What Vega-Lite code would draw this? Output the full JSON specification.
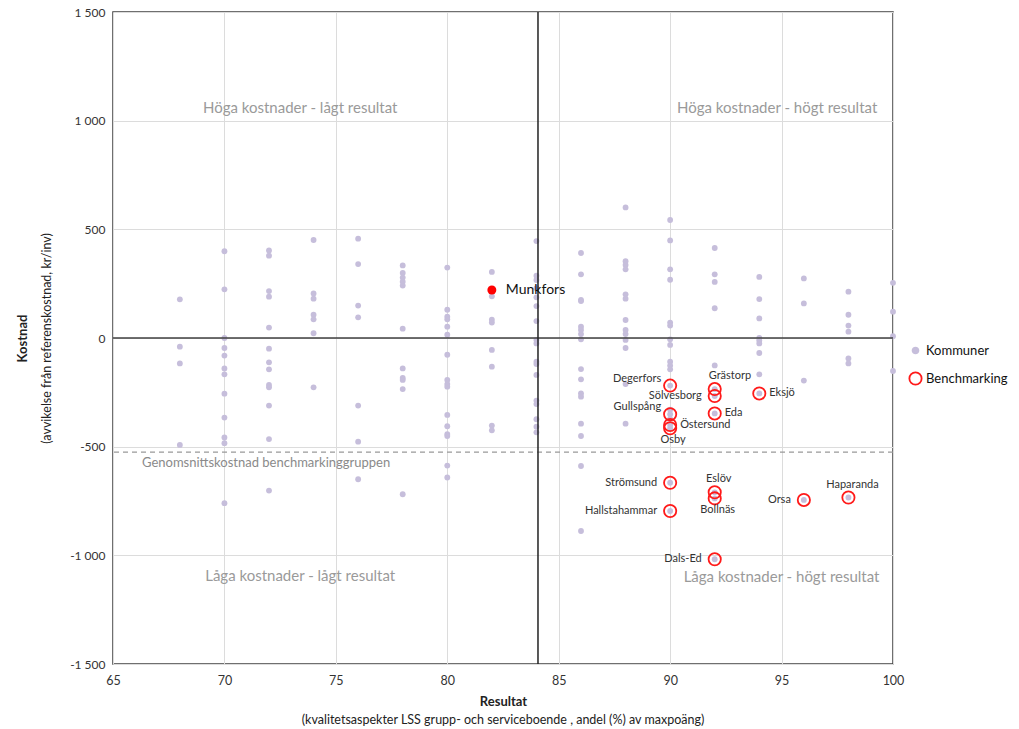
{
"$schema": "https://vega.github.io/schema/vega-lite/v6.json",
"width": 780, "height": 652,
"autosize": {"type": "none"},
"padding": {"left": 113, "top": 12, "right": 126, "bottom": 65},
"background": "white",
"config": {
 "font": "Lato",
 "view": {"stroke": "#404040", "strokeWidth": 1.5},
 "axis": {"grid": true, "gridColor": "#dcdcdc", "gridWidth": 1, "ticks": false, "domain": false, "labelFont": "Lato", "labelFontSize": 12, "labelColor": "#333", "titleFont": "Lato", "titleColor": "#222", "titleFontSize": 13, "labelFlush": false},
 "axisX": {"titleFontWeight": "bold", "labelPadding": 10, "titlePadding": 9, "tickCount": 7, "labelFontSize": 12.5},
 "legend": {"labelFont": "Lato", "labelFontSize": 13, "labelColor": "#111"}
},
"title": {"text": "(kvalitetsaspekter LSS grupp- och serviceboende , andel (%) av maxpoäng)", "orient": "bottom", "anchor": "middle", "fontWeight": "normal", "fontSize": 12.5, "color": "#222", "offset": 5, "font": "Lato"},
"datasets": {
 "pts": [
  {"x":68,"y":178},{"x":68,"y":-40},{"x":68,"y":-117},{"x":68,"y":-492},
  {"x":70,"y":399},{"x":70,"y":224},{"x":70,"y":0},{"x":70,"y":-46},{"x":70,"y":-81},{"x":70,"y":-140},{"x":70,"y":-167},{"x":70,"y":-256},{"x":70,"y":-366},{"x":70,"y":-458},{"x":70,"y":-484},{"x":70,"y":-760},
  {"x":72,"y":403},{"x":72,"y":379},{"x":72,"y":216},{"x":72,"y":190},{"x":72,"y":48},{"x":72,"y":-49},{"x":72,"y":-112},{"x":72,"y":-144},{"x":72,"y":-216},{"x":72,"y":-227},{"x":72,"y":-311},{"x":72,"y":-465},{"x":72,"y":-702},
  {"x":74,"y":451},{"x":74,"y":205},{"x":74,"y":181},{"x":74,"y":107},{"x":74,"y":86},{"x":74,"y":22},{"x":74,"y":-227},
  {"x":76,"y":457},{"x":76,"y":340},{"x":76,"y":149},{"x":76,"y":95},{"x":76,"y":-311},{"x":76,"y":-477},{"x":76,"y":-650},
  {"x":78,"y":334},{"x":78,"y":299},{"x":78,"y":278},{"x":78,"y":259},{"x":78,"y":241},{"x":78,"y":43},{"x":78,"y":-140},{"x":78,"y":-184},{"x":78,"y":-193},{"x":78,"y":-235},{"x":78,"y":-719},
  {"x":80,"y":324},{"x":80,"y":130},{"x":80,"y":98},{"x":80,"y":86},{"x":80,"y":52},{"x":80,"y":15},{"x":80,"y":-77},{"x":80,"y":-193},{"x":80,"y":-212},{"x":80,"y":-224},{"x":80,"y":-354},{"x":80,"y":-406},{"x":80,"y":-442},{"x":80,"y":-451},{"x":80,"y":-587},{"x":80,"y":-642},
  {"x":82,"y":304},{"x":82,"y":192},{"x":82,"y":84},{"x":82,"y":71},{"x":82,"y":-55},{"x":82,"y":-132},{"x":82,"y":-403},{"x":82,"y":-425},
  {"x":84,"y":446},{"x":84,"y":287},{"x":84,"y":267},{"x":84,"y":229},{"x":84,"y":187},{"x":84,"y":147},{"x":84,"y":78},{"x":84,"y":-9},{"x":84,"y":-25},{"x":84,"y":-109},{"x":84,"y":-120},{"x":84,"y":-170},{"x":84,"y":-288},{"x":84,"y":-304},{"x":84,"y":-374},{"x":84,"y":-408},{"x":84,"y":-434},
  {"x":86,"y":391},{"x":86,"y":293},{"x":86,"y":175},{"x":86,"y":170},{"x":86,"y":52},{"x":86,"y":37},{"x":86,"y":18},{"x":86,"y":-6},{"x":86,"y":-143},{"x":86,"y":-190},{"x":86,"y":-255},{"x":86,"y":-270},{"x":86,"y":-394},{"x":86,"y":-451},{"x":86,"y":-589},{"x":86,"y":-888},
  {"x":88,"y":601},{"x":88,"y":353},{"x":88,"y":336},{"x":88,"y":316},{"x":88,"y":201},{"x":88,"y":181},{"x":88,"y":83},{"x":88,"y":37},{"x":88,"y":18},{"x":88,"y":-9},{"x":88,"y":-46},{"x":88,"y":-212},{"x":88,"y":-394},
  {"x":90,"y":543},{"x":90,"y":449},{"x":90,"y":316},{"x":90,"y":268},{"x":90,"y":71},{"x":90,"y":57},{"x":90,"y":-6},{"x":90,"y":-32},{"x":90,"y":-109},{"x":90,"y":-127},{"x":90,"y":-144},{"x":90,"y":-330},{"x":90,"y":-372},
  {"x":92,"y":414},{"x":92,"y":293},{"x":92,"y":258},{"x":92,"y":137},{"x":92,"y":-126},
  {"x":94,"y":281},{"x":94,"y":179},{"x":94,"y":90},{"x":94,"y":0},{"x":94,"y":-12},{"x":94,"y":-25},{"x":94,"y":-69},{"x":94,"y":-167},
  {"x":96,"y":274},{"x":96,"y":159},{"x":96,"y":-196},
  {"x":98,"y":213},{"x":98,"y":107},{"x":98,"y":57},{"x":98,"y":29},{"x":98,"y":-94},{"x":98,"y":-117},
  {"x":100,"y":254},{"x":100,"y":121},{"x":100,"y":8},{"x":100,"y":-152},
  {"x":90,"y":-219,"name":"Degerfors"},
  {"x":92,"y":-235,"name":"Grästorp"},
  {"x":92,"y":-267,"name":"Sölvesborg"},
  {"x":94,"y":-255,"name":"Eksjö"},
  {"x":90,"y":-351,"name":"Gullspång"},
  {"x":92,"y":-347,"name":"Eda"},
  {"x":90,"y":-400,"name":"Östersund"},
  {"x":90,"y":-415,"name":"Osby"},
  {"x":90,"y":-666,"name":"Strömsund"},
  {"x":92,"y":-710,"name":"Eslöv"},
  {"x":92,"y":-738,"name":"Bollnäs"},
  {"x":96,"y":-745,"name":"Orsa"},
  {"x":98,"y":-734,"name":"Haparanda"},
  {"x":90,"y":-796,"name":"Hallstahammar"},
  {"x":92,"y":-1018,"name":"Dals-Ed"}
 ],
 "munk": [{"x":82,"y":221,"name":"Munkfors"}],
 "refs": [{"avgcost": -525, "midres": 84.07, "zero": 0}],
 "quad": [
  {"x":73.4,"y":1058,"label":"Höga kostnader - lågt resultat"},
  {"x":94.8,"y":1058,"label":"Höga kostnader - högt resultat"},
  {"x":73.4,"y":-1095,"label":"Låga kostnader - lågt resultat"},
  {"x":95.0,"y":-1098,"label":"Låga kostnader - högt resultat"}
 ],
 "avg": [{"x":66.3,"y":-575,"label":"Genomsnittskostnad benchmarkinggruppen"}]
},
"layer": [
 {"data": {"name": "pts"},
  "mark": {"type": "point", "filled": true, "opacity": 1, "strokeWidth": 0},
  "encoding": {
   "x": {"field": "x", "type": "quantitative", "title": "Resultat", "scale": {"domain": [65,100], "nice": false, "zero": false}},
   "y": {"field": "y", "type": "quantitative", "scale": {"domain": [-1500,1500], "nice": false, "zero": false},
    "axis": {"orient": "left", "title": "(avvikelse från referenskostnad, kr/inv)", "titleFontWeight": "normal", "titleFontSize": 12.5, "values": [-1500,-1000,-500,0,500,1000,1500], "labelPadding": 8, "titlePadding": 16,
     "labelExpr": "datum.value < 0 ? '-' + replace(format(abs(datum.value), ','), ',', ' ') : replace(format(datum.value, ','), ',', ' ')"}},
   "fill": {"datum": "Kommuner", "type": "nominal", "scale": {"domain": ["Kommuner","Benchmarking"], "range": ["#c6bedb","transparent"]}, "legend": {"title": null, "orient": "none", "legendX": 795, "legendY": 332, "symbolStrokeWidth": 1.8, "rowPadding": 10, "labelOffset": 3}},
   "stroke": {"datum": "Kommuner", "type": "nominal", "scale": {"domain": ["Kommuner","Benchmarking"], "range": ["#c6bedb","#ff1a1a"]}, "legend": {"title": null, "orient": "none", "legendX": 795, "legendY": 332, "symbolStrokeWidth": 1.8, "rowPadding": 10, "labelOffset": 3}},
   "size": {"datum": "Kommuner", "type": "nominal", "scale": {"domain": ["Kommuner","Benchmarking"], "range": [34,150]}, "legend": {"title": null, "orient": "none", "legendX": 795, "legendY": 332, "symbolStrokeWidth": 1.8, "rowPadding": 10, "labelOffset": 3}}
  }},
 {"data": {"name": "refs"},
  "mark": {"type": "rule", "color": "#999", "strokeDash": [5,4], "strokeWidth": 1.2},
  "encoding": {"y": {"field": "avgcost", "type": "quantitative",
   "axis": {"orient": "left", "title": "Kostnad", "labels": false, "grid": false, "titleFontWeight": "bold", "titlePadding": 84}}}},
 {"data": {"name": "refs"},
  "mark": {"type": "rule", "color": "#404040", "strokeWidth": 1.5},
  "encoding": {"y": {"field": "zero", "type": "quantitative", "axis": null}}},
 {"data": {"name": "refs"},
  "mark": {"type": "rule", "color": "#222", "strokeWidth": 1.5},
  "encoding": {"x": {"field": "midres", "type": "quantitative", "title": "Resultat"}}},
 {"data": {"name": "pts"},
  "transform": [{"filter": "datum.name != null"}],
  "mark": {"type": "point", "filled": false, "strokeWidth": 1.8, "opacity": 1},
  "encoding": {
   "x": {"field": "x", "type": "quantitative", "title": "Resultat"},
   "y": {"field": "y", "type": "quantitative", "axis": null},
   "fill": {"datum": "Benchmarking", "type": "nominal"},
   "stroke": {"datum": "Benchmarking", "type": "nominal"},
   "size": {"datum": "Benchmarking", "type": "nominal"}
  }},
 {"data": {"name": "munk"},
  "mark": {"type": "circle", "color": "#ff0000", "size": 80, "opacity": 1},
  "encoding": {"x": {"field": "x", "type": "quantitative", "title": "Resultat"}, "y": {"field": "y", "type": "quantitative", "axis": null}}},
 {"data": {"name": "munk"},
  "mark": {"type": "text", "align": "left", "dx": 14, "fontSize": 14, "color": "#111", "baseline": "middle"},
  "encoding": {"x": {"field": "x", "type": "quantitative", "title": "Resultat"}, "y": {"field": "y", "type": "quantitative", "axis": null}, "text": {"field": "name"}}},
 {"data": {"name": "pts"},
  "transform": [{"filter": {"field": "name", "oneOf": ["Sölvesborg","Strömsund","Hallstahammar","Orsa","Dals-Ed"]}}],
  "mark": {"type": "text", "align": "right", "dx": -13, "fontSize": 11, "color": "#333", "baseline": "middle"},
  "encoding": {"x": {"field": "x", "type": "quantitative", "title": "Resultat"}, "y": {"field": "y", "type": "quantitative", "axis": null}, "text": {"field": "name"}}},
 {"data": {"name": "pts"},
  "transform": [{"filter": {"field": "name", "oneOf": ["Degerfors","Gullspång"]}}],
  "mark": {"type": "text", "align": "right", "dx": -9, "dy": -7, "fontSize": 11, "color": "#333", "baseline": "middle"},
  "encoding": {"x": {"field": "x", "type": "quantitative", "title": "Resultat"}, "y": {"field": "y", "type": "quantitative", "axis": null}, "text": {"field": "name"}}},
 {"data": {"name": "pts"},
  "transform": [{"filter": {"field": "name", "oneOf": ["Eksjö","Eda","Östersund"]}}],
  "mark": {"type": "text", "align": "left", "dx": 10, "fontSize": 11, "color": "#333", "baseline": "middle"},
  "encoding": {"x": {"field": "x", "type": "quantitative", "title": "Resultat"}, "y": {"field": "y", "type": "quantitative", "axis": null}, "text": {"field": "name"}}},
 {"data": {"name": "pts"},
  "transform": [{"filter": {"field": "name", "oneOf": ["Eslöv","Haparanda"]}}],
  "mark": {"type": "text", "align": "center", "dx": 4, "dy": -13, "fontSize": 11, "color": "#333", "baseline": "middle"},
  "encoding": {"x": {"field": "x", "type": "quantitative", "title": "Resultat"}, "y": {"field": "y", "type": "quantitative", "axis": null}, "text": {"field": "name"}}},
 {"data": {"name": "pts"},
  "transform": [{"filter": {"field": "name", "oneOf": ["Grästorp"]}}],
  "mark": {"type": "text", "align": "left", "dx": -6, "dy": -13, "fontSize": 11, "color": "#333", "baseline": "middle"},
  "encoding": {"x": {"field": "x", "type": "quantitative", "title": "Resultat"}, "y": {"field": "y", "type": "quantitative", "axis": null}, "text": {"field": "name"}}},
 {"data": {"name": "pts"},
  "transform": [{"filter": {"field": "name", "oneOf": ["Osby","Bollnäs"]}}],
  "mark": {"type": "text", "align": "center", "dx": 3, "dy": 12, "fontSize": 11, "color": "#333", "baseline": "middle"},
  "encoding": {"x": {"field": "x", "type": "quantitative", "title": "Resultat"}, "y": {"field": "y", "type": "quantitative", "axis": null}, "text": {"field": "name"}}},
 {"data": {"name": "quad"},
  "mark": {"type": "text", "align": "center", "fontSize": 15, "color": "#9a9a9a", "baseline": "middle"},
  "encoding": {"x": {"field": "x", "type": "quantitative", "title": "Resultat"}, "y": {"field": "y", "type": "quantitative", "axis": null}, "text": {"field": "label"}}},
 {"data": {"name": "avg"},
  "mark": {"type": "text", "align": "left", "fontSize": 13, "color": "#8a8a8a", "baseline": "middle"},
  "encoding": {"x": {"field": "x", "type": "quantitative", "title": "Resultat"}, "y": {"field": "y", "type": "quantitative", "axis": null}, "text": {"field": "label"}}}
],
"resolve": {"axis": {"y": "independent"}}
}
